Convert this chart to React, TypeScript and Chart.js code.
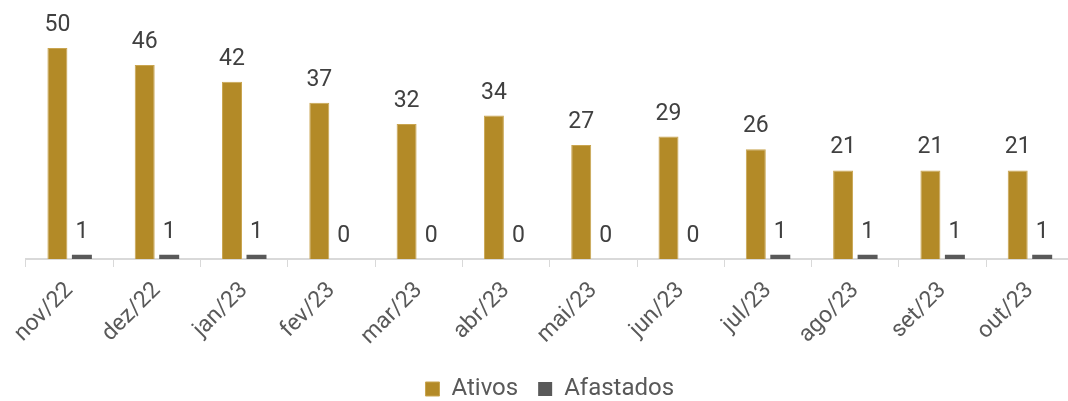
import React, { useEffect, useRef } from "react";
import { Chart, registerables } from "chart.js";

Chart.register(...registerables);

const categories = ["nov/22", "dez/22", "jan/23", "fev/23", "mar/23", "abr/23", "mai/23", "jun/23", "jul/23", "ago/23", "set/23", "out/23"];
const ativos = [50, 46, 42, 37, 32, 34, 27, 29, 26, 21, 21, 21];
const afastados = [1, 1, 1, 0, 0, 0, 0, 0, 1, 1, 1, 1];

const GOLD = "#B38A27";
const GRAY = "#595959";

const valueLabels = {
  id: "valueLabels",
  afterDatasetsDraw(chart: any) {
    const ctx = chart.ctx;
    ctx.save();
    ctx.font = "23px Roboto";
    ctx.fillStyle = "#404040";
    ctx.textAlign = "center";
    ctx.textBaseline = "alphabetic";
    chart.data.datasets.forEach((ds: any, i: number) => {
      const meta = chart.getDatasetMeta(i);
      meta.data.forEach((el: any, j: number) => {
        ctx.fillText(String(ds.data[j]), el.x, el.y - 17);
      });
    });
    ctx.restore();
  },
};

export default function App() {
  const ref = useRef<HTMLCanvasElement>(null);
  useEffect(() => {
    Chart.defaults.font.family = "Roboto";
    const chart = new Chart(ref.current!, {
      type: "bar",
      data: {
        labels: categories,
        datasets: [
          { label: "Ativos", data: ativos, backgroundColor: GOLD, borderColor: "#C9A550", borderWidth: 1, categoryPercentage: 0.561, barPercentage: 0.816 },
          { label: "Afastados", data: afastados, backgroundColor: GRAY, categoryPercentage: 0.561, barPercentage: 0.816 },
        ],
      },
      options: {
        animation: false,
        responsive: true,
        maintainAspectRatio: false,
        layout: { padding: { left: 26, right: 6.4, top: 48, bottom: -10 } },
        plugins: {
          legend: {
            position: "bottom",
            labels: { boxWidth: 14, boxHeight: 14, padding: 20, color: GRAY, font: { size: 24, family: "Roboto" } },
          },
          tooltip: { enabled: false },
        },
        scales: {
          x: {
            grid: { display: true, drawOnChartArea: false, drawTicks: true, tickLength: 8, color: "#d9d9d9", offset: true },
            border: { display: true, color: "#d9d9d9", width: 2 },
            ticks: { color: GRAY, padding: 10, font: { size: 23, family: "Roboto" }, minRotation: 45, maxRotation: 45, autoSkip: false },
            afterFit: (scale: any) => { scale.height = 98; },
          },
          y: { display: false, min: 0, max: 50 },
        },
      },
      plugins: [valueLabels],
    });
    return () => chart.destroy();
  }, []);
  return (
    <div style={{ position: "absolute", left: 0, top: 0, width: 1068, height: 401, overflow: "hidden", background: "#fff" }}>
      <div style={{ position: "relative", width: 1080, height: 401 }}>
        <canvas ref={ref} />
      </div>
    </div>
  );
}
